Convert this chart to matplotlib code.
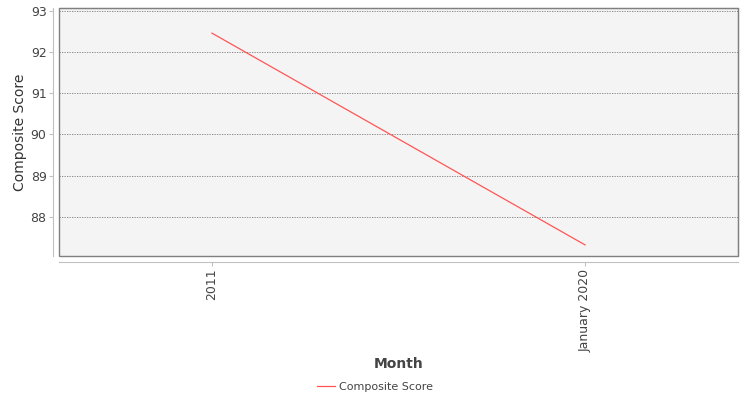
import matplotlib
matplotlib.use("Agg")
import matplotlib.pyplot as plt
from matplotlib.patches import Rectangle
from matplotlib.lines import Line2D

# data
months = ["2011", "January 2020"]
composite_score = [92.46, 87.32]

fig = plt.figure(figsize=(7.5, 4), dpi=100)
ax = fig.add_axes([59/750, 1-256/400, (738-59)/750, (256-8)/400])
ax.set_facecolor("#f4f4f4")

x = list(range(len(months)))
ax.plot(x, composite_score, color="#ff5555", lw=0.9, label="Composite Score")

ax.set_xlim(-0.41, 1.41)
ax.set_ylim(87.05, 93.07)
ax.set_yticks([88, 89, 90, 91, 92, 93])
ax.set_xticks(x)
ax.set_xticklabels(months)
ax.grid(axis="y", color="#777777", ls=(0, (1.5, 1.5)), lw=0.6)

for s in ["top", "right"]:
    ax.spines[s].set_color("#808080")
for s in ["left", "bottom"]:
    ax.spines[s].set_position(("outward", 4))
    ax.spines[s].set_color("#c0c0c0")
ax.add_patch(Rectangle((0, 0), 1, 1, transform=ax.transAxes, fill=False,
                       edgecolor="#808080", lw=1.0, clip_on=False))

ax.tick_params(colors="#c0c0c0", labelcolor="#444444", labelsize=9, length=3, width=0.8, pad=2)
ax.tick_params(axis="x", labelrotation=90)
ax.set_ylabel("Composite Score", fontsize=10, fontweight="medium", color="#333333")
ax.yaxis.set_label_coords(-(59-27)/679, 0.5)
ax.set_xlabel("Month", fontsize=10, fontweight="bold", color="#444444")
ax.xaxis.set_label_coords(0.5, -(357-256)/248)

handle = Line2D([], [], color="#ff5555", lw=0.9)
fig.legend([handle], ["Composite Score"], loc="center", bbox_to_anchor=(0.5, 1-387/400),
           frameon=False, fontsize=8, labelcolor="#444444", handlelength=1.6, handletextpad=0.4)

fig.savefig("out.png", dpi=100)
